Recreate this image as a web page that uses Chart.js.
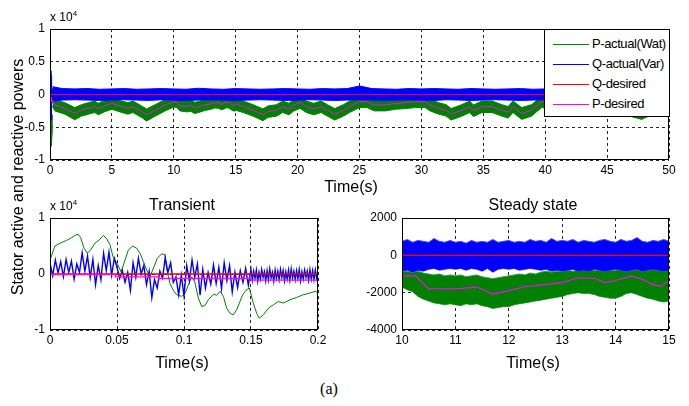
<!DOCTYPE html>
<html>
<head>
<meta charset="utf-8">
<script src="https://cdn.jsdelivr.net/npm/chart.js@4.4.0/dist/chart.umd.min.js"></script>
<style>
body { margin:0; background:#fff; width:689px; height:406px; position:relative; overflow:hidden; font-family:"Liberation Sans", Arial, sans-serif; }
canvas { position:absolute; }
.lbl { position:absolute; color:#000; white-space:nowrap; transform:translate(-50%,-50%); }
.big { font-size:16px; }
.exp { position:absolute; font-size:12px; color:#000; white-space:nowrap; }
.exp sup { font-size:8px; }
#ylab { left:18px; top:177px; transform:translate(-50%,-50%) rotate(-90deg); font-size:16px; }
#legend { position:absolute; left:544px; top:29px; width:126px; height:88px; box-sizing:border-box; border:1px solid #000; background:#fff; }
#legend .row { position:absolute; left:0; height:16px; }
#legend .ln { position:absolute; left:8px; top:8px; width:36px; height:1px; }
#legend .tx { position:absolute; left:47px; top:0; font-size:13px; letter-spacing:-0.4px; line-height:16px; color:#000; white-space:nowrap; }
</style>
</head>
<body>
<canvas id="topChart" width="689" height="200" style="left:0;top:0"></canvas>
<canvas id="tranChart" width="340" height="190" style="left:0;top:190px"></canvas>
<canvas id="steadyChart" width="349" height="190" style="left:340px;top:190px"></canvas>

<div class="exp" style="left:50px;top:9px">x 10<sup>4</sup></div>
<div class="exp" style="left:50px;top:198px">x 10<sup>4</sup></div>
<div class="lbl big" style="left:351px;top:187px">Time(s)</div>
<div class="lbl big" style="left:182px;top:205px">Transient</div>
<div class="lbl big" style="left:533px;top:205px">Steady state</div>
<div class="lbl big" style="left:182px;top:363px">Time(s)</div>
<div class="lbl big" style="left:533px;top:363px">Time(s)</div>
<div class="lbl" id="ylab">Stator active and reactive powers</div>
<div class="lbl" style="left:329px;top:389px;font-family:'Liberation Serif',serif;font-size:16px">(a)</div>

<div id="legend">
  <div class="row" style="top:6px"><div class="ln" style="background:#008000"></div><div class="tx">P-actual(Wat)</div></div>
  <div class="row" style="top:26px"><div class="ln" style="background:#0000ff"></div><div class="tx">Q-actual(Var)</div></div>
  <div class="row" style="top:46px"><div class="ln" style="background:#ff0000"></div><div class="tx">Q-desired</div></div>
  <div class="row" style="top:66px"><div class="ln" style="background:#ff00ff"></div><div class="tx">P-desired</div></div>
</div>

<script>
// values (W / Var), time in seconds

// ---- full run 0..50 s ----
const pTopT = [0.2,0.4,1.2,2.0,2.55,3.1,3.6,3.9,4.4,5.0,5.8,6.3,6.7,7.4,7.8,8.5,9.3,10.0,10.25,10.5,11.0,11.4,11.7,12.0,12.5,13.0,13.3,13.6,13.8,14.0,14.3,14.5,14.7,14.9,15.0,15.6,16.4,17.2,17.6,18.3,18.8,19.3,19.7,20.2,20.7,21.3,21.9,22.4,23.0,23.7,24.2,25.0,25.6,26.2,27.1,27.9,28.7,29.5,30.3,30.7,31.4,32.0,32.4,33.2,33.9,34.2,34.9,35.7,36.5,37.0,37.4,38.1,38.9,39.7,40.5,42.0,44.0,46.0,47.8,49.0,50.0];
const pTopV = [-900,-1600,-2100,-2900,-2400,-2100,-1850,-2200,-1750,-1350,-1850,-2100,-1850,-2600,-3100,-2400,-1600,-1100,-1100,-1800,-1800,-1700,-2100,-1900,-1600,-1450,-1200,-1250,-1500,-1400,-1100,-1300,-1550,-1650,-1400,-1850,-2400,-3100,-2600,-2400,-1850,-2200,-1600,-1200,-1850,-2200,-1850,-2400,-3000,-2400,-1850,-1100,-1100,-1600,-1600,-1350,-1250,-1100,-1100,-1600,-2100,-2400,-3000,-2450,-1850,-2450,-1850,-1850,-2400,-2700,-1850,-2900,-2400,-1100,-1300,-1800,-1500,-2000,-2900,-1800,-1500];
const pActTopHi = [-100,-800,-1250,-2000,-1550,-1250,-1000,-1350,-900,-500,-1000,-1250,-1000,-1750,-2200,-1550,-750,-300,-300,-950,-1000,-850,-1200,-1050,-750,-600,-350,-400,-650,-550,-250,-450,-700,-800,-550,-1000,-1550,-2200,-1750,-1550,-1000,-1350,-750,-350,-1000,-1350,-1000,-1550,-2150,-1550,-1000,-250,-250,-750,-750,-500,-400,-250,-250,-750,-1250,-1550,-2150,-1600,-1000,-1600,-1000,-1000,-1550,-1850,-1000,-2000,-1550,-250,-450,-950,-650,-1150,-2000,-950,-650];
const pActTopLo = [-1800,-2500,-3000,-3850,-3300,-3000,-2750,-3100,-2650,-2250,-2750,-3000,-2750,-3500,-4050,-3300,-2500,-1900,-2000,-2500,-2650,-2600,-2900,-2750,-2450,-2250,-2050,-2100,-2300,-2250,-2000,-2150,-2400,-2550,-2400,-2750,-3300,-4000,-3500,-3300,-2750,-3100,-2500,-2100,-2750,-3100,-2750,-3300,-3900,-3300,-2750,-2000,-2000,-2500,-2500,-2250,-2150,-2000,-2000,-2500,-3000,-3300,-3900,-3350,-2750,-3350,-2750,-2750,-3300,-3600,-2750,-3800,-3300,-2000,-2200,-2700,-2400,-2900,-3800,-2700,-2400];

const qTopT = [0.2,1,2,3,4,5,6,7,8,9,10,11,12,13,14,15,16,17,18,19,20,21,22,23,24,25,26,27,28,29,30,31,32,33,34,35,36,37,38,39,40,41,42,43,44,45,46,47,48,49,50];
const qActTopHi = [1200,900,850,900,800,850,900,800,850,900,850,800,950,850,800,900,850,800,850,900,850,800,900,850,900,1300,900,850,800,900,850,900,850,800,900,850,800,850,900,800,850,850,800,900,850,800,850,900,850,800,850];
const qActTopLo = [-1000,-850,-800,-850,-900,-850,-800,-850,-900,-800,-850,-900,-850,-800,-850,-900,-850,-800,-850,-900,-850,-800,-850,-900,-850,-800,-850,-900,-850,-800,-850,-900,-800,-850,-900,-850,-800,-850,-900,-850,-800,-850,-900,-850,-800,-850,-900,-850,-800,-850,-800];

// ---- transient 0..0.2 s ----
const pActTranT = [0,0.0037,0.0075,0.0124,0.0162,0.0187,0.0211,0.0229,0.0254,0.0279,0.0303,0.0336,0.0368,0.0398,0.0423,0.0448,0.047,0.0507,0.053,0.056,0.0585,0.0617,0.0647,0.0672,0.0697,0.0721,0.0746,0.0776,0.0801,0.0833,0.0858,0.087,0.0895,0.092,0.0945,0.0982,0.1007,0.1032,0.1057,0.108,0.1107,0.1132,0.1157,0.1182,0.122,0.1244,0.1269,0.1294,0.1318,0.1343,0.1368,0.1393,0.1413,0.1438,0.1463,0.1488,0.1517,0.1542,0.1562,0.1592,0.163,0.1667,0.1704,0.1741,0.1791,0.184,0.189,0.194,0.1978,0.2];
const pActTranV = [2500,5000,5500,6000,6500,6900,7100,6500,4600,3700,4300,5500,6100,6900,6300,5200,3100,1600,400,2500,4300,5000,4600,3700,2200,700,-500,1300,2800,3600,3400,1000,-1700,-2900,-3700,-4000,-3500,-2000,-500,-1400,-4300,-5800,-5600,-4600,-3600,-3800,-3100,-4000,-6100,-7000,-7300,-6400,-5200,-3700,-2900,-2500,-5200,-7000,-7900,-7300,-6100,-5500,-4900,-5200,-4600,-4200,-3700,-3400,-3100,-3300];

const qActTranT = [0,0.002,0.004,0.006,0.008,0.010,0.012,0.014,0.016,0.018,0.020,0.022,0.024,0.026,0.028,0.030,0.032,0.034,0.036,0.038,0.040,0.042,0.044,0.046,0.048,0.050,0.052,0.054,0.056,0.058,0.060,0.062,0.064,0.066,0.068,0.070,0.072,0.074,0.076,0.078,0.080,0.082,0.084,0.086,0.088,0.090,0.092,0.094,0.096,0.098,0.100,0.102,0.104,0.106,0.108,0.110,0.112,0.114,0.116,0.118,0.120,0.122,0.124,0.126,0.128,0.130,0.132,0.134,0.136,0.138,0.140,0.142,0.144,0.146,0.148,0.150,
  0.151,0.152,0.153,0.154,0.155,0.156,0.157,0.158,0.159,0.160,0.161,0.162,0.163,0.164,0.165,0.166,0.167,0.168,0.169,0.170,0.171,0.172,0.173,0.174,0.175,0.176,0.177,0.178,0.179,0.180,0.181,0.182,0.183,0.184,0.185,0.186,0.187,0.188,0.189,0.190,0.191,0.192,0.193,0.194,0.195,0.196,0.197,0.198,0.199,0.200];
const qActTranV = [2000,-300,2500,200,2200,-500,2600,300,2300,-900,1800,300,3800,500,3200,-600,2600,-1900,1500,-1000,3700,600,3900,-200,2800,1200,-800,600,-1500,300,-2900,2000,-600,2800,0,1500,-1900,500,-4200,-1000,-2500,500,-700,2900,300,2000,-1500,-500,-3700,-200,-3900,1500,-1200,2500,-600,1800,-3800,800,-2500,300,-1800,1600,-1700,1200,-2600,2000,-1200,1500,-3200,300,-2400,600,-1500,1000,-2000,800,
  -1100,500,-800,700,-1300,300,-900,800,-600,400,-1200,600,-1000,900,-700,300,-1300,700,-800,500,-1000,800,-600,600,-1200,400,-900,700,-1100,900,-700,500,-1000,600,-800,800,-1200,400,-900,700,-600,500,-1100,800,-900,600,-1000,700,-800,500];

const pDesTranT = [0,0.049,0.049,0.081,0.081,0.15,0.15,0.2];
const pDesTranV = [-100,-100,-500,-500,-800,-800,-1100,-1100];

// ---- steady state 10..15 s ----
const pDesSsT = [10,10.25,10.5,11,11.4,11.7,12,12.3,12.5,13,13.3,13.6,13.8,14,14.3,14.5,14.7,14.85,15];
const pDesSsV = [-1100,-1100,-1780,-1800,-1700,-2080,-1890,-1670,-1620,-1460,-1200,-1230,-1460,-1350,-1120,-1280,-1570,-1650,-1350];

const ssT = [10,10.1,10.2,10.3,10.4,10.5,10.6,10.7,10.8,10.9,11,11.1,11.2,11.3,11.4,11.5,11.6,11.7,11.8,11.9,12,12.1,12.2,12.3,12.4,12.5,12.6,12.7,12.8,12.9,13,13.1,13.2,13.3,13.4,13.5,13.6,13.7,13.8,13.9,14,14.1,14.2,14.3,14.4,14.5,14.6,14.7,14.8,14.9,15];
const qActSsHi = [750,850,700,800,750,700,900,750,700,800,700,750,650,800,700,750,700,850,700,750,800,700,750,700,850,750,800,700,900,750,800,750,850,700,800,750,700,800,850,750,700,850,750,800,950,750,700,800,750,850,750];
const qActSsLo = [-850,-800,-900,-800,-850,-750,-700,-800,-750,-700,-750,-700,-800,-700,-750,-850,-700,-900,-750,-700,-750,-700,-800,-750,-700,-750,-800,-750,-850,-800,-850,-800,-750,-850,-800,-850,-750,-800,-850,-800,-750,-800,-850,-800,-750,-850,-800,-750,-800,-850,-800];
const pActSsHi = [-850,-850,-900,-850,-950,-1000,-1050,-1000,-1100,-1050,-1100,-1050,-1150,-1100,-1050,-1150,-1200,-1250,-1200,-1150,-1100,-1050,-1000,-1050,-950,-1000,-900,-850,-900,-850,-850,-800,-850,-800,-800,-750,-800,-800,-750,-800,-800,-750,-800,-800,-750,-800,-800,-750,-800,-800,-800];
const pActSsLo = [-1700,-1850,-1950,-2200,-2350,-2450,-2550,-2600,-2650,-2600,-2650,-2700,-2600,-2650,-2600,-2700,-2750,-2850,-2800,-2750,-2750,-2650,-2600,-2550,-2500,-2450,-2400,-2350,-2300,-2250,-2200,-2100,-2050,-2000,-2050,-2050,-2100,-2200,-2250,-2300,-2300,-2200,-2050,-2000,-2100,-2200,-2300,-2350,-2450,-2500,-2450];

const GREEN = '#008000', BLUE = '#0000ff', RED = '#ff0000', MAGENTA = '#ff00ff';

function pts(xs, ys) {
    return xs.map((x, i) => ({ x: x, y: ys[i] }));
}

function line(data, color, width, order, extra) {
    return Object.assign({
        data: data,
        borderColor: color,
        borderWidth: width,
        pointRadius: 0,
        fill: false,
        tension: 0,
        order: order
    }, extra || {});
}

// black frame round the plot area, like matlab's box on
const boxPlugin = {
    id: 'box',
    afterDatasetsDraw(chart) {
        const a = chart.chartArea;
        const c = chart.ctx;
        c.save();
        c.setLineDash([]);
        c.strokeStyle = '#000';
        c.lineWidth = 1;
        c.strokeRect(a.left + 0.5, a.top + 0.5, a.right - a.left - 1, a.bottom - a.top - 1);
        c.restore();
    }
};

function axes(xMin, xMax, xStep, yMin, yMax, yStep, yWidth, xHeight, xFmt, yFmt) {
    const font = { family: '"Liberation Sans", Arial, sans-serif', size: 12 };
    return {
        x: {
            type: 'linear', min: xMin, max: xMax,
            afterFit: s => { s.height = xHeight; },
            ticks: { stepSize: xStep, color: '#000', font: font, padding: 3, maxRotation: 0, autoSkip: false, callback: xFmt },
            grid: { color: 'rgba(0,0,0,0.85)', lineWidth: 1, drawTicks: false },
            border: { display: false, dash: [3, 3] }
        },
        y: {
            type: 'linear', min: yMin, max: yMax,
            afterFit: s => { s.width = yWidth; },
            ticks: { stepSize: yStep, color: '#000', font: font, padding: 5, autoSkip: false, callback: yFmt },
            grid: { color: 'rgba(0,0,0,0.85)', lineWidth: 1, drawTicks: false },
            border: { display: false, dash: [3, 3] }
        }
    };
}

function makeChart(id, datasets, scales, padRight) {
    return new Chart(document.getElementById(id), {
        type: 'line',
        data: { datasets: datasets },
        options: {
            responsive: false,
            animation: false,
            devicePixelRatio: 1,
            layout: { padding: { top: id === 'topChart' ? 29 : 28, right: padRight, left: 0, bottom: 0 } },
            plugins: { legend: { display: false }, tooltip: { enabled: false } },
            scales: scales
        },
        plugins: [boxPlugin]
    });
}

const fmt4 = v => String(v / 10000);
const plain = v => String(+v.toFixed(2));

// top: whole run
makeChart('topChart', [
    line(pts(pTopT, pActTopHi), GREEN, 1, 5, { fill: '+1', backgroundColor: GREEN }),
    line(pts(pTopT, pActTopLo), GREEN, 1, 5),
    line(pts(qTopT, qActTopHi), BLUE, 1, 4, { fill: '+1', backgroundColor: BLUE }),
    line(pts(qTopT, qActTopLo), BLUE, 1, 4),
    line(pts(pActTranT, pActTranV), GREEN, 1, 3),
    line(pts(qActTranT, qActTranV), BLUE, 1, 2),
    line(pts([0, 50], [0, 0]), RED, 1, 1),
    line(pts(pDesTranT, pDesTranV).concat(pts(pTopT, pTopV)), MAGENTA, 1, 0)
], axes(0, 50, 5, -10000, 10000, 5000, 50, 40, plain, fmt4), 20);

// bottom left: first 0.2 s
makeChart('tranChart', [
    line(pts(pActTranT, pActTranV), GREEN, 1, 3),
    line(pts(qActTranT, qActTranV), BLUE, 1.4, 2),
    line(pts([0, 0.2], [0, 0]), RED, 1.5, 1),
    line(pts(pDesTranT, pDesTranV), MAGENTA, 1.3, 0)
], axes(0, 0.2, 0.05, -10000, 10000, 10000, 50, 50, plain, fmt4), 22);

// bottom right: 10..15 s
makeChart('steadyChart', [
    line(pts(ssT, pActSsHi), '#3f9a3f', 1, 5, { fill: '+1', backgroundColor: GREEN }),
    line(pts(ssT, pActSsLo), '#5aa85a', 1, 5),
    line(pts(ssT, qActSsHi), '#4a4aff', 1, 4, { fill: '+1', backgroundColor: BLUE }),
    line(pts(ssT, qActSsLo), '#4a4aff', 1, 4),
    line(pts([10, 15], [0, 0]), RED, 1.3, 1),
    line(pts(pDesSsT, pDesSsV), MAGENTA, 1.2, 0)
], axes(10, 15, 1, -4000, 2000, 2000, 62, 50, plain, v => String(v)), 20);
</script>
</body>
</html>
